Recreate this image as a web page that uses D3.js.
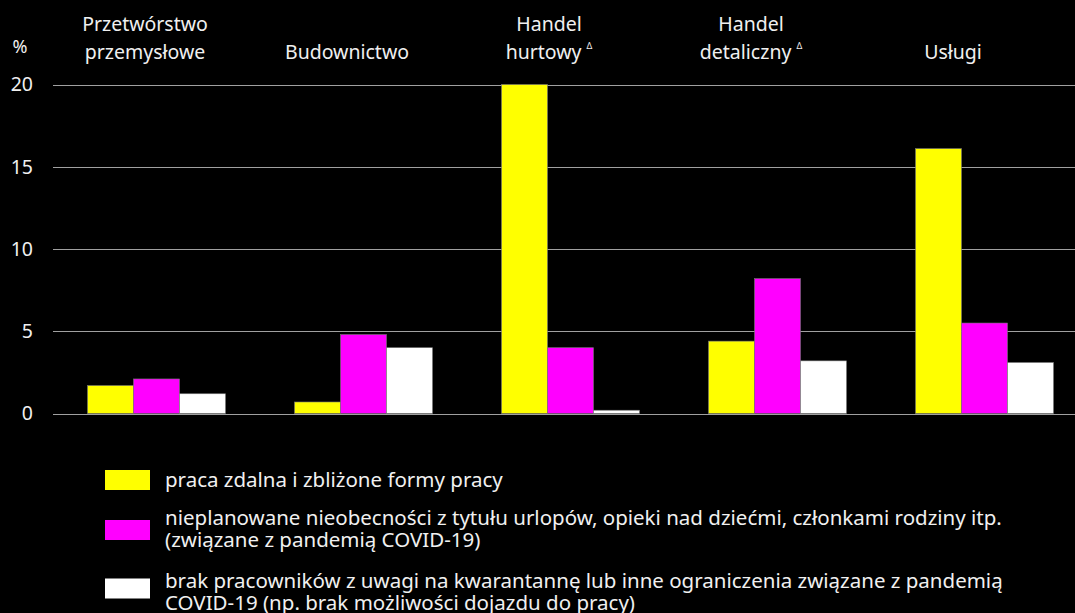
<!DOCTYPE html>
<html>
<head>
<meta charset="utf-8">
<script src="https://cdn.jsdelivr.net/npm/d3@7"></script>
<style>
    body { margin: 0; background: #000; }
    svg { display: block; }
    text { font-family: "Noto Sans", sans-serif; fill: #f0f0f0; }
</style>
</head>
<body>
<div id="chart"></div>
<script>
// categories (each label split into lines, flag = has the delta mark)
var categories = ["Przetwórstwo przemysłowe", "Budownictwo", "Handel hurtowy", "Handel detaliczny", "Usługi"];
var categoryLines = [["Przetwórstwo", "przemysłowe"], ["Budownictwo"], ["Handel", "hurtowy"], ["Handel", "detaliczny"], ["Usługi"]];
var categoryDelta = [false, false, true, true, false];

var seriesNames = [
    ["praca zdalna i zbliżone formy pracy"],
    ["nieplanowane nieobecności z tytułu urlopów, opieki nad dziećmi, członkami rodziny itp.", "(związane z pandemią COVID-19)"],
    ["brak pracowników z uwagi na kwarantannę lub inne ograniczenia związane z pandemią", "COVID-19 (np. brak możliwości dojazdu do pracy)"]
];
var seriesColors = ["#ffff00", "#ff00ff", "#ffffff"];

var remoteWork = [1.7, 0.7, 20.0, 4.4, 16.1];
var absences = [2.1, 4.8, 4.0, 8.2, 5.5];
var noWorkers = [1.2, 4.0, 0.2, 3.2, 3.1];

var yTicks = [0, 5, 10, 15, 20];

var width = 1075, height = 613;
var margin = { top: 84, left: 53 };
var plotBottom = 413.5;

var svg = d3.select("#chart")
    .append("svg")
    .attr("width", width)
    .attr("height", height)
    .style("background", "#000");

// bar groups
var x = d3.scaleBand()
    .domain(categories)
    .range([margin.left, 1088]);

// header labels sit on a slightly narrower band
var xLabel = d3.scaleBand()
    .domain(categories)
    .range([44, 1054]);

var series = [remoteWork, absences, noWorkers];
var xSub = d3.scaleBand()
    .domain([0, 1, 2])
    .range([0, 138]);

var y = d3.scaleLinear()
    .domain([0, 20])
    .range([plotBottom, margin.top + 0.5]);

// grid lines
svg.append("g")
    .selectAll("line")
    .data(yTicks)
    .join("line")
    .attr("x1", margin.left)
    .attr("x2", width)
    .attr("y1", function (d) { return Math.round(y(d)) + 0.5 })
    .attr("y2", function (d) { return Math.round(y(d)) + 0.5 })
    .attr("stroke", "#a0a0a0")
    .attr("stroke-width", 1);

// y tick labels
svg.append("g")
    .selectAll("text")
    .data(yTicks)
    .join("text")
    .attr("x", 33)
    .attr("y", function (d) { return y(d) })
    .attr("dy", "0.35em")
    .attr("text-anchor", "end")
    .style("font-size", "19.5px")
    .text(function (d) { return d });

svg.append("text")
    .attr("x", 20)
    .attr("y", 53)
    .attr("text-anchor", "middle")
    .style("font-size", "18px")
    .text("%");

// bars
var groups = svg.append("g")
    .selectAll("g")
    .data(categories)
    .join("g")
    .attr("transform", function (d) { return "translate(" + (x(d) + x.bandwidth() / 2 - 69) + ",0)" });

groups.selectAll("rect")
    .data(function (d, i) { return series.map(function (s, k) { return { k: k, v: s[i] } }) })
    .join("rect")
    .attr("x", function (d) { return xSub(d.k) })
    .attr("width", xSub.bandwidth())
    .attr("y", function (d) { return y(d.v) })
    .attr("height", function (d) { return plotBottom - y(d.v) })
    .attr("fill", function (d) { return seriesColors[d.k] })
    .attr("stroke", "#777")
    .attr("stroke-width", 0.6);

// category labels on top
categories.forEach(function (c, i) {
    var lines = categoryLines[i];
    var cx = xLabel(c) + xLabel.bandwidth() / 2;
    var t = svg.append("text")
        .attr("text-anchor", "middle")
        .style("font-size", "19.5px");
    lines.forEach(function (ln, j) {
        t.append("tspan")
            .attr("x", cx)
            .attr("y", 59 - (lines.length - 1 - j) * 28)
            .text(ln);
    });
    if (categoryDelta[i]) {
        t.append("tspan")
            .style("font-size", "9px")
            .attr("dx", 5)
            .attr("dy", -10)
            .text("Δ");
    }
});

// legend
var legendY = [480, 530, 588.5];
var legendTextY = [487, 525, 588];
var legend = svg.append("g");
seriesNames.forEach(function (lines, k) {
    legend.append("rect")
        .attr("x", 105)
        .attr("y", legendY[k] - 10)
        .attr("width", 45)
        .attr("height", 20)
        .attr("fill", seriesColors[k]);
    var t = legend.append("text")
        .style("font-size", "20.5px");
    lines.forEach(function (ln, j) {
        t.append("tspan")
            .attr("x", 165)
            .attr("y", legendTextY[k] + j * 22)
            .text(ln);
    });
});
</script>
</body>
</html>
